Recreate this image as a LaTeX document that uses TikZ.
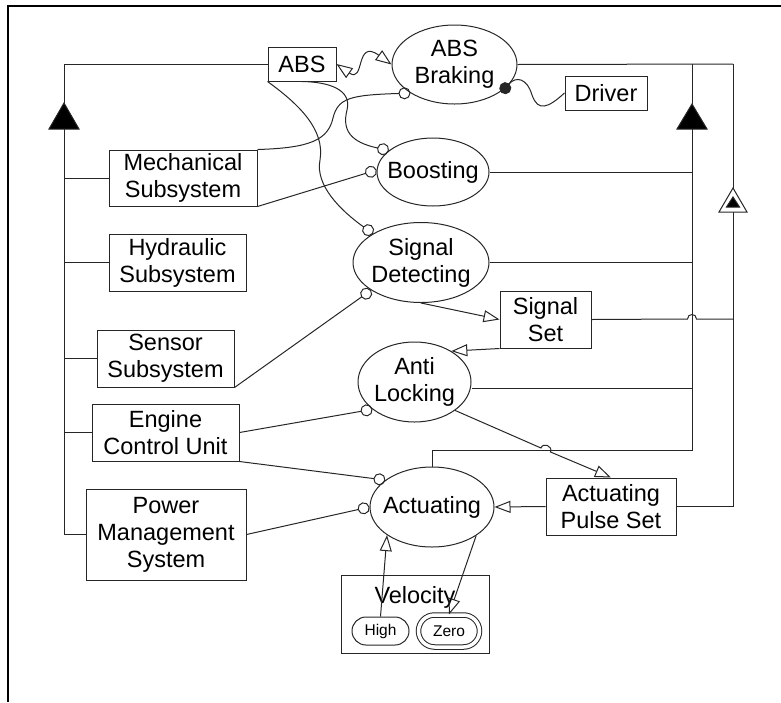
\documentclass[tikz,border=0pt]{standalone}
\usepackage{fontspec}
\setmainfont{Liberation Sans}
\usetikzlibrary{shapes.geometric,arrows.meta}
\newcommand{\opmfont}{\fontsize{23.5}{27}\selectfont}
\newcommand{\statefont}{\fontsize{15.5}{17}\selectfont}
\tikzset{
  thing/.style={draw, rectangle, inner sep=0pt, font=\opmfont, align=center},
  proc/.style={draw, ellipse, inner sep=0pt},
  ptext/.style={font=\opmfont, align=center},
  state/.style={draw, rounded corners=14pt, minimum width=57pt, minimum height=28pt, inner sep=0pt, font=\statefont},
  instr/.style={-{Circle[open,length=12pt]}},
  agent/.style={-{Circle[length=12pt]}, shorten >=-6pt},
  res/.style={-{Triangle[open,length=16pt,width=12pt]}},
  both/.style={{Triangle[open,length=16pt,width=12pt]}-{Triangle[open,length=16pt,width=12pt]}},
}
\begin{document}
\begin{tikzpicture}[x=1pt,y=-1pt,line width=1pt,draw=black!85]
\useasboundingbox (0,0) rectangle (781,702);
% frame
\draw[line width=2pt,black] (8,702) -- (8,6) -- (781,6);
% objects
\node[thing, minimum width=68pt, minimum height=34pt] (abs) at (302,64) {ABS};
\node[thing, minimum width=82pt, minimum height=34pt] (driver) at (606,93) {Driver};
\node[thing, minimum width=148pt, minimum height=56pt] (mech) at (183,178) {Mechanical\\Subsystem};
\node[thing, minimum width=137pt, minimum height=57pt] (hyd) at (177.5,262.5) {Hydraulic\\Subsystem};
\node[thing, minimum width=137pt, minimum height=57pt] (sensor) at (165.5,358.5) {Sensor\\Subsystem};
\node[thing, minimum width=147pt, minimum height=57pt] (ecu) at (165.5,432.5) {Engine\\Control Unit};
\node[thing, minimum width=160pt, minimum height=91pt] (pms) at (166,534.5) {Power\\Management\\System};
\node[thing, minimum width=91pt, minimum height=57pt] (sigset) at (545.5,319.5) {Signal\\Set};
\node[thing, minimum width=130pt, minimum height=57pt] (aps) at (611,506.5) {Actuating\\Pulse Set};
\node[thing, minimum width=148pt, minimum height=78pt,
  label={[ptext,anchor=base,yshift=-29pt]north:Velocity}] (velo) at (415,614) {};
\node[state] (high) at (380.5,631) {High};
\node[state, rounded corners=16pt, minimum width=61pt, minimum height=32pt,
  double, double distance=3.5pt] (zero) at (449,631) {Zero};
% processes
\node[proc, minimum width=125pt, minimum height=79pt, label={[ptext]center:ABS\\Braking}] (absb) at (454.5,64.5) {};
\node[proc, minimum width=112pt, minimum height=68pt, label={[ptext]center:Boosting}] (boost) at (433,172) {};
\node[proc, minimum width=136pt, minimum height=80pt, label={[ptext]center:Signal\\Detecting}] (sigdet) at (421,262.5) {};
\node[proc, minimum width=113pt, minimum height=80pt, label={[ptext]center:Anti\\Locking}] (antil) at (414.5,382) {};
\node[proc, minimum width=124pt, minimum height=80pt, label={[ptext]center:Actuating}] (act) at (432,507) {};
% left aggregation bus
\coordinate (lbtop) at (64,64);
\coordinate (lagg) at (64,129);
\coordinate (lbend) at (64,534.5);
\draw (abs.west) -- (lbtop) -- (64,103);
\draw[fill=black] (lagg) ++(-15,0) -- ++(15,-26) -- ++(15,26) -- cycle;
\draw (lagg) -- (lbend) -- (pms.west);
\draw (mech.west) -- (mech.west -| lagg);
\draw (hyd.west) -- (hyd.west -| lagg);
\draw (sensor.west) -- (sensor.west -| lagg);
\draw (ecu.west) -- (ecu.west -| lagg);
% right aggregation bus
\coordinate (rbtop) at (692,64);
\coordinate (ragg) at (692,129);
\coordinate (rbend) at (692,450);
\coordinate (rb1ant) at (692,388);
\draw (absb.east) -- (733,64);
\draw (rbtop) -- (692,104);
\draw[fill=black] (ragg) ++(-15,0) -- ++(15,-25) -- ++(15,25) -- cycle;
\draw (ragg) -- (rbend) -- (act.north |- rbend) -- (act.north);
\draw (boost.east) -- (boost.east -| ragg);
\draw (sigdet.east) -- (sigdet.east -| ragg);
\draw (antil.east |- rb1ant) -- (rb1ant);
% exhibition bus
\coordinate (xtop) at (733,64);
\coordinate (xagg) at (733,212);
\coordinate (xend) at (733,506.5);
\draw (xtop) -- (xend) -- (aps.east);
\draw[fill=white] (xagg) ++(-14,0) -- ++(14,-24) -- ++(14,24) -- cycle;
\draw[fill=black] (xagg) ++(-6.5,-5) -- ++(6.5,-10) -- ++(6.5,10) -- cycle;
\draw (sigset.east) -- (687.5,319) .. controls (687.5,313) and (696.5,313) .. (696.5,319) -- (733,319);
% effect and agent links
\draw[both] (abs.east) .. controls (365,84) and (355,38) .. (absb.west);
\draw[agent] (driver.west) .. controls (548,108) and (538,112) .. (532,95)
  .. controls (527,78) and (516,76) .. (absb.-25);
% instrument links
\draw[instr] (mech.north east) .. controls (310,148) and (328,140) .. (333,118)
  .. controls (338,98) and (350,95) .. (absb.-147);
\draw[instr] (abs.south) .. controls (330,82) and (352,90) .. (347,110)
  .. controls (342,130) and (350,142) .. (boost.154);
\draw[instr] (abs.south west) .. controls (300,105) and (325,130) .. (320,160)
  .. controls (315,185) and (340,210) .. (sigdet.149);
\draw[instr] (mech.south east) -- (boost.178);
\draw[instr] (sensor.south east) -- (sigdet.-151);
\draw[instr] (ecu.east) -- (antil.-147);
\draw[instr] (ecu.south east) -- (act.150);
\draw[instr] (pms.east) -- (act.west);
% result links
\draw[res] (sigdet.south) -- (sigset.west);
\draw[res] (sigset.south west) -- (antil.40);
\draw[res] (antil.-35) -- (541,448) .. controls (543,442) and (553,446) .. (550.5,452) -- (aps.north);
\draw[res] (aps.west) -- (act.east);
\draw[res] (high.north) -- (act.-148);
\draw[res] (act.-33) -- (zero.north);
\end{tikzpicture}
\end{document}
